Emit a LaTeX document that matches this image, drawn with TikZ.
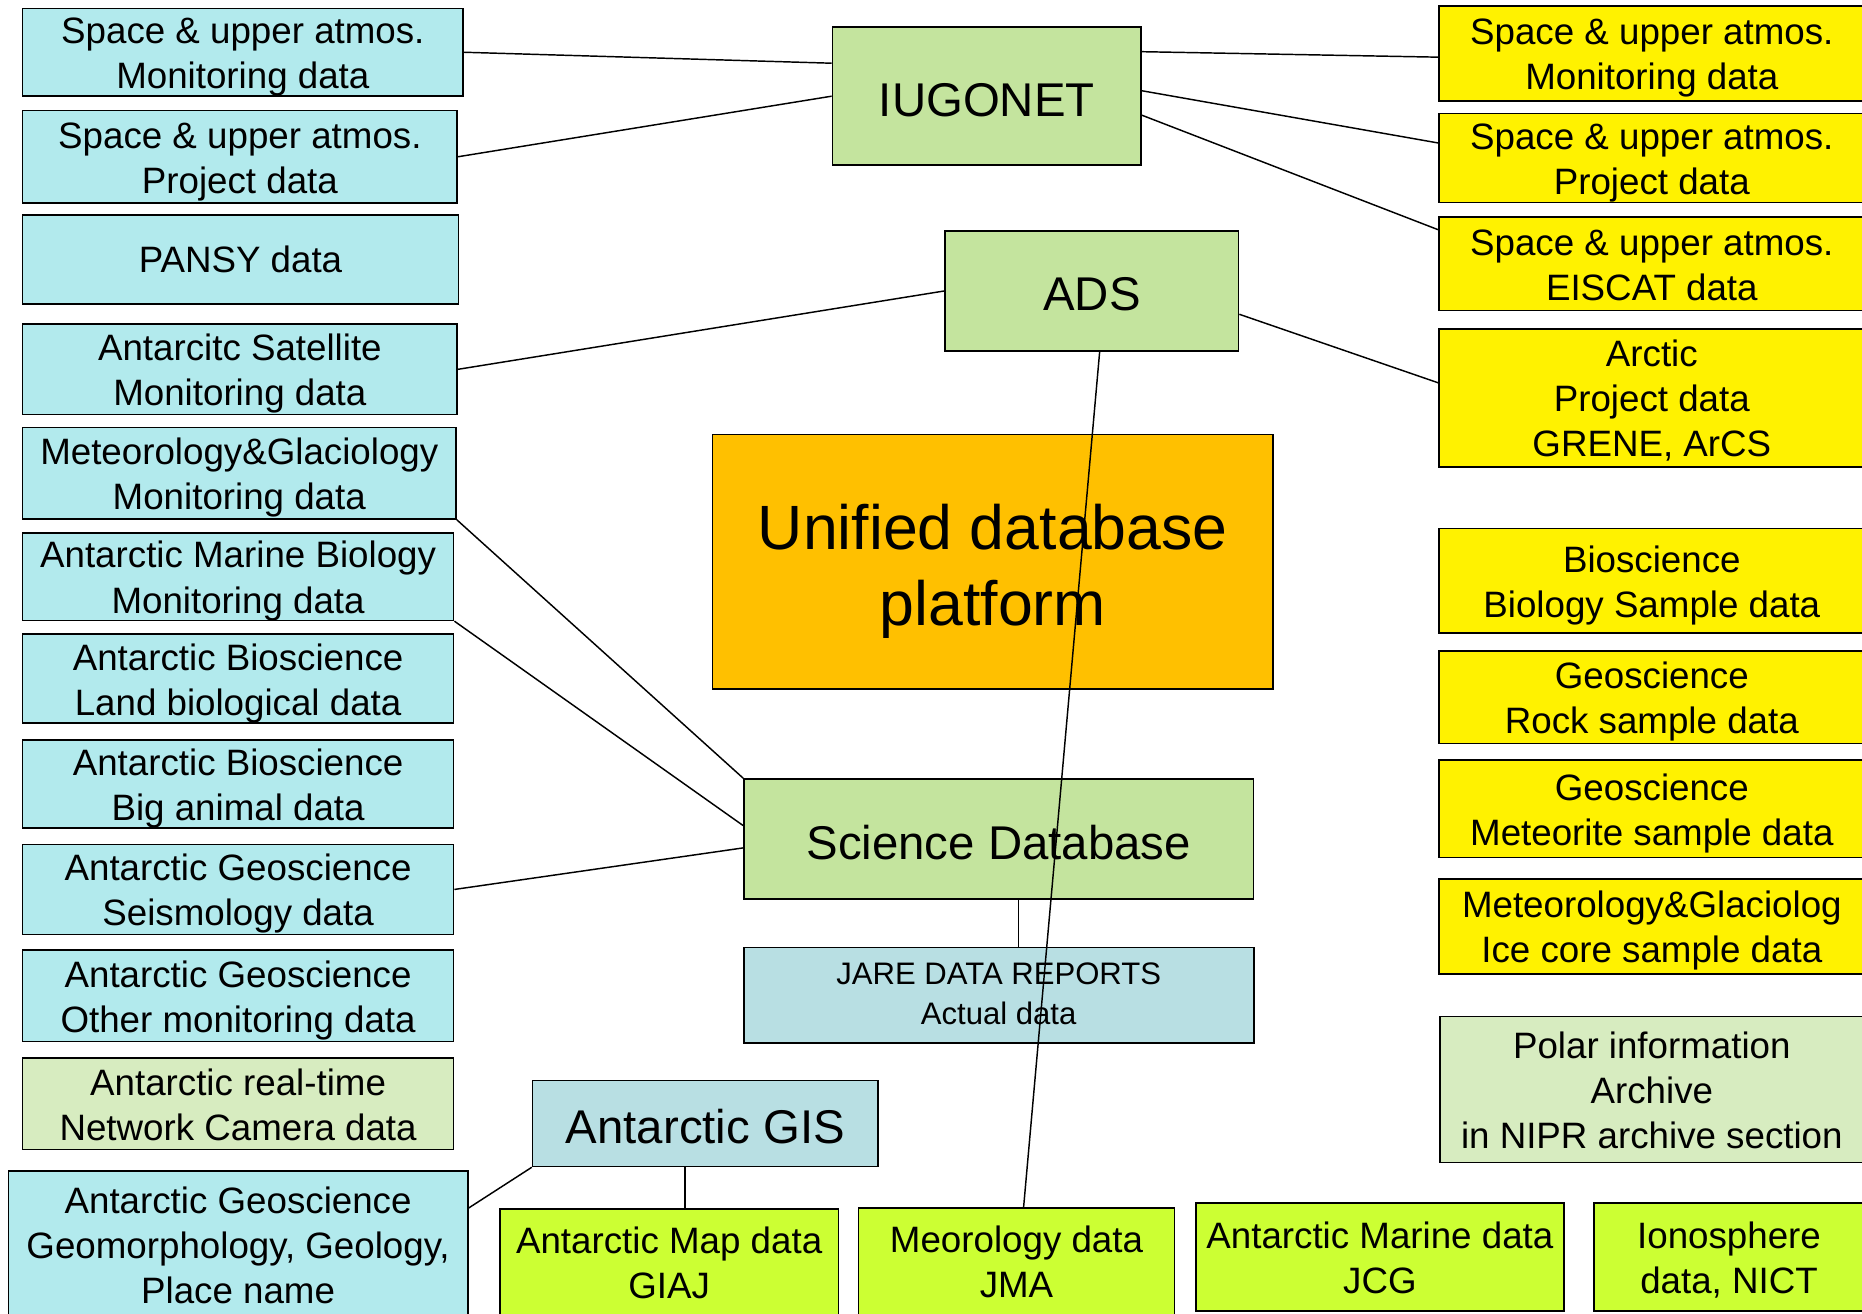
\documentclass[tikz,border=0pt]{standalone}
\usepackage{fontspec}
\setmainfont{Liberation Sans}
\definecolor{skyfill}{RGB}{178,234,237}
\definecolor{leaffill}{RGB}{196,228,158}
\definecolor{palefill}{RGB}{215,236,192}
\definecolor{greyblue}{RGB}{184,223,227}
\definecolor{limefill}{RGB}{204,255,51}
\definecolor{orangefill}{RGB}{255,192,0}
\tikzstyle{databox} = [draw, line width=0.8pt, align=center, inner sep=0pt]
\tikzstyle{oneline} = []
\tikzstyle{twoline} = [text height=38.5pt, text depth=3.5pt]
\tikzstyle{threeline} = [text height=60pt, text depth=3.5pt]
\tikzstyle{bigtext} = [font=\fontsize{22.7}{27}\selectfont, text height=19.2pt, text depth=0pt]
\tikzstyle{link} = [line width=0.7pt]

\begin{document}
\begin{tikzpicture}[x=0.02cm, y=-0.02cm, every node/.style={font=\fontsize{17.6}{21.6}\selectfont}]
\useasboundingbox (0,0) rectangle (1568,1106);
\clip (0,0) rectangle (1568,1106);

% --- left column ---
\foreach \n/\y/\bw/\bh/\col/\lines/\txt in {
  1/44/7.42/1.44/skyfill/twoline/{Space \& upper atmos.\\Monitoring data},
  2/132/7.32/1.56/skyfill/twoline/{Space \& upper atmos.\\Project data},
  3/218.5/7.34/1.50/skyfill/oneline/{PANSY data},
  4/311/7.32/1.52/skyfill/twoline/{Antarcitc Satellite\\Monitoring data},
  5/398.5/7.30/1.54/skyfill/twoline/{Meteorology\&Glaciology\\Monitoring data},
  6/485.5/7.26/1.42/skyfill/twoline/{Antarctic Marine Biology\\Monitoring data},
  7/571.5/7.26/1.50/skyfill/twoline/{Antarctic Bioscience\\Land biological data},
  8/660/7.26/1.48/skyfill/twoline/{Antarctic Bioscience\\Big animal data},
  9/749/7.26/1.52/skyfill/twoline/{Antarctic Geoscience\\Seismology data},
  10/838.5/7.26/1.54/skyfill/twoline/{Antarctic Geoscience\\Other monitoring data},
  11/929.5/7.26/1.54/palefill/twoline/{Antarctic real-time\\Network Camera data}} {
  \node[databox, \lines, fill=\col, minimum width=\bw cm, minimum height=\bh cm] (l\n) at (19+\bw*25,\y) {\txt};
}
\node[databox, threeline, fill=skyfill, minimum width=7.74cm, minimum height=2.48cm] (l12) at (200.5,1048) {Antarctic Geoscience\\Geomorphology, Geology,\\Place name};

% --- right column ---
\foreach \n/\y/\bh/\lines/\txt in {
  1/45/1.60/twoline/{Space \& upper atmos.\\Monitoring data},
  2/133/1.50/twoline/{Space \& upper atmos.\\Project data},
  3/222/1.58/twoline/{Space \& upper atmos.\\EISCAT data},
  4/335/2.32/threeline/{Arctic\\Project data\\GRENE, ArCS},
  5/489/1.76/twoline/{Bioscience\\Biology Sample data},
  6/587/1.56/twoline/{Geoscience\\Rock sample data},
  7/681/1.64/twoline/{Geoscience\\Meteorite sample data},
  8/780/1.60/twoline/{Meteorology\&Glaciolog\\Ice core sample data}} {
  \node[databox, \lines, fill=yellow, minimum width=7.16cm, minimum height=\bh cm] (r\n) at (1391,\y) {\txt};
}
\node[databox, threeline, fill=palefill, minimum width=7.14cm, minimum height=2.46cm] (polar) at (1391,917.5) {Polar information\\Archive\\in NIPR archive section};

% --- centre ---
\node[databox, bigtext, fill=leaffill, minimum width=5.2cm, minimum height=2.32cm] (iugonet) at (831,81) {IUGONET};
\node[databox, bigtext, fill=leaffill, minimum width=4.94cm, minimum height=2.03cm] (ads) at (919.5,245) {ADS};
\node[databox, fill=orangefill, minimum width=9.44cm, minimum height=4.28cm, font=\fontsize{30}{36.3}\selectfont, text height=66pt, text depth=5pt] (unified) at (836,473) {Unified database\\platform};
\node[databox, bigtext, fill=leaffill, minimum width=8.58cm, minimum height=2.02cm] (scidb) at (841,706.5) {Science Database};
\node[databox, fill=greyblue, minimum width=8.59cm, minimum height=1.61cm, font=\fontsize{14.9}{18.9}\selectfont, text height=31.3pt, text depth=3.5pt] (jare) at (841,838) {JARE DATA REPORTS\\Actual data};

% --- bottom row ---
\node[databox, bigtext, fill=greyblue, minimum width=5.82cm, minimum height=1.45cm] (gis) at (594,946) {Antarctic GIS};
\node[databox, twoline, text depth=6pt, fill=limefill, minimum width=5.7cm, minimum height=1.88cm] (map) at (563.5,1065) {Antarctic Map data\\GIAJ};
\node[databox, twoline, text depth=6pt, fill=limefill, minimum width=5.32cm, minimum height=1.88cm] (meor) at (856,1064) {Meorology data\\JMA};
\node[databox, twoline, fill=limefill, minimum width=6.2cm, minimum height=1.82cm] (marine) at (1162,1058.5) {Antarctic Marine data\\JCG};
\node[databox, twoline, fill=limefill, minimum width=4.56cm, minimum height=1.82cm] (iono) at (1456,1058.5) {Ionosphere\\data, NICT};

% connections
\draw[link] (l1.east) -- (iugonet.168.3);
\draw[link] (l2.east) -- (iugonet.west);
\draw[link] (l4.east) -- (ads.west);
\draw[link] (l5.south east) -- (scidb.north west);
\draw[link] (l6.south east) -- (scidb.177.5);
\draw[link] (l9.east) -- (scidb.182.5);
\draw[link] (l12.9.4) -- (gis.south west);
\draw[link] ([xshift=-0.34cm]gis.south) -- ([xshift=-0.34cm]gis.south |- map.north);
\draw[link] ([xshift=0.33cm]scidb.south) -- ([xshift=0.33cm]scidb.south |- jare.north);
\draw[link] (iugonet.16.7) -- (r1.181.9);
\draw[link] (iugonet.2.6) -- (r2.176.1);
\draw[link] (iugonet.353.4) -- (r3.171);
\draw[link] (ads.351.7) -- (r4.176.5);
\draw[link] ([xshift=0.13cm]ads.south) -- ([xshift=0.12cm]meor.north);

\end{tikzpicture}
\end{document}
